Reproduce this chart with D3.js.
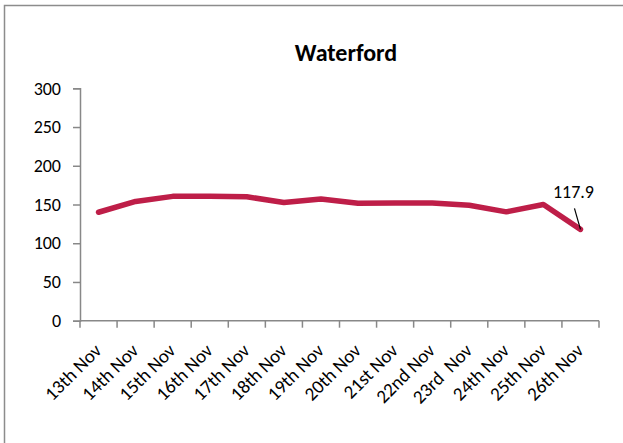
<!DOCTYPE html>
<html>
<head>
<meta charset="utf-8">
<script src="https://cdn.jsdelivr.net/npm/d3@7"></script>
<style>
  body { margin: 0; background: #fff; }
  text { font-family: Carlito, Lato, "Liberation Sans", sans-serif; fill: #000; }
</style>
</head>
<body>
<svg id="chart"></svg>
<script>
// values
var days = ["13th Nov", "14th Nov", "15th Nov", "16th Nov", "17th Nov", "18th Nov", "19th Nov",
            "20th Nov", "21st Nov", "22nd Nov", "23rd  Nov", "24th Nov", "25th Nov", "26th Nov"];
var rates = [140, 154, 160.5, 160.5, 160, 152.5, 157, 151.5, 152, 152, 149, 140.5, 150, 117.9];
var yTicks = [0, 50, 100, 150, 200, 250, 300];

var width = 623, height = 443;
var svg = d3.select("#chart").attr("width", width).attr("height", height);

// chart frame
svg.append("rect")
  .attr("x", 4.5).attr("y", 5.5)
  .attr("width", 640).attr("height", 460)
  .style("fill", "none")
  .style("stroke", "#8c8c8c")
  .style("stroke-width", 1.5);

var plotLeft = 80, plotRight = 599, plotTop = 88.3, plotBottom = 320.7;

var x = d3.scaleBand().domain(days).range([plotLeft, plotRight]);
var y = d3.scaleLinear().domain([0, 300]).range([plotBottom, plotTop]);

svg.append("text")
  .attr("x", 346)
  .attr("y", 61)
  .attr("text-anchor", "middle")
  .style("font-size", "24px")
  .style("font-weight", "bold")
  .text("Waterford");

// y axis
var yAxis = svg.append("g")
  .attr("transform", "translate(" + plotLeft + ",0)")
  .call(d3.axisLeft(y).tickValues(yTicks).tickSize(7).tickPadding(12));
yAxis.selectAll("text").style("font-size", "18px");

// x axis, ticks on the band edges
var edges = days.map(function(d) { return x(d); }).concat([plotRight]);
var xAxis = svg.append("g").attr("transform", "translate(0," + plotBottom + ")");
xAxis.append("line")
  .attr("x1", plotLeft).attr("x2", plotRight);
xAxis.selectAll("line.tick")
  .data(edges)
  .enter().append("line")
  .attr("class", "tick")
  .attr("x1", function(d) { return d; })
  .attr("x2", function(d) { return d; })
  .attr("y1", 0).attr("y2", 7);
xAxis.selectAll("line").style("stroke", "#888").style("stroke-width", 1.5);

xAxis.selectAll("text")
  .data(days)
  .enter().append("text")
  .attr("text-anchor", "end")
  .attr("transform", function(d) {
    return "translate(" + (x(d) + x.bandwidth() / 2 + 4) + ",31) rotate(-45)";
  })
  .style("font-size", "19px")
  .style("white-space", "pre")
  .text(function(d) { return d; });

svg.selectAll(".domain").style("stroke", "#888").style("stroke-width", 1.5);
yAxis.selectAll(".tick line").style("stroke", "#888").style("stroke-width", 1.5);

// the line
var line = d3.line()
  .x(function(d, i) { return x(days[i]) + x.bandwidth() / 2; })
  .y(function(d) { return y(d); });

svg.append("path")
  .datum(rates)
  .attr("d", line)
  .style("fill", "none")
  .style("stroke", "#be1e48")
  .style("stroke-width", 5.5)
  .style("stroke-linejoin", "round")
  .style("stroke-linecap", "round");

// label on last point
var lastX = x(days[days.length - 1]) + x.bandwidth() / 2;
var lastY = y(rates[rates.length - 1]);
svg.append("line")
  .attr("x1", lastX - 6).attr("y1", lastY - 21)
  .attr("x2", lastX).attr("y2", lastY)
  .style("stroke", "#000")
  .style("stroke-width", 1.2);
svg.append("text")
  .attr("x", lastX - 7)
  .attr("y", lastY - 31)
  .attr("text-anchor", "middle")
  .style("font-size", "18px")
  .text(rates[rates.length - 1]);
</script>
</body>
</html>
